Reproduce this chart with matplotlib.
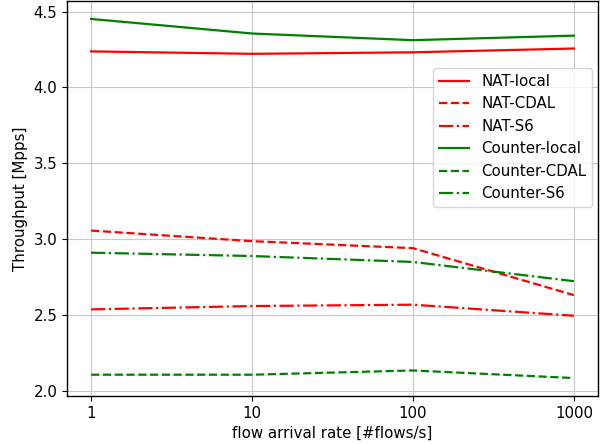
import matplotlib
matplotlib.use("Agg")
import matplotlib.pyplot as plt

plt.rcParams["font.size"] = 10.8

x_labels = ["1", "10", "100", "1000"]
nat_local = [4.238, 4.222, 4.232, 4.257]
nat_cdal = [3.056, 2.986, 2.940, 2.630]
nat_s6 = [2.536, 2.558, 2.567, 2.494]
counter_local = [4.452, 4.356, 4.312, 4.342]
counter_cdal = [2.105, 2.105, 2.133, 2.083]
counter_s6 = [2.910, 2.888, 2.849, 2.722]

fig = plt.figure(figsize=(6.03, 4.44), dpi=100)
ax = fig.add_axes([67/603, 1-396/444, (598-67)/603, (396-1)/444])
xs = list(range(len(x_labels)))
lw = 1.6
ax.plot(xs, nat_local, color="red", linestyle="-", lw=lw, label="NAT-local")
ax.plot(xs, nat_cdal, color="red", linestyle="--", lw=lw, label="NAT-CDAL")
ax.plot(xs, nat_s6, color="red", linestyle="-.", lw=lw, label="NAT-S6")
ax.plot(xs, counter_local, color="green", linestyle="-", lw=lw, label="Counter-local")
ax.plot(xs, counter_cdal, color="green", linestyle="--", lw=lw, label="Counter-CDAL")
ax.plot(xs, counter_s6, color="green", linestyle="-.", lw=lw, label="Counter-S6")
ax.set_xticks(xs)
ax.set_xticklabels(x_labels)
ax.grid(True, color="#c8c8c8")
for s in ax.spines.values():
    s.set_linewidth(1.0)
ax.set_xlabel("flow arrival rate [#flows/s]")
ax.set_ylabel("Throughput [Mpps]")
ax.legend(loc="upper right", bbox_to_anchor=(0.989, 0.831), borderaxespad=0)
fig.savefig("out.png", dpi=100)
